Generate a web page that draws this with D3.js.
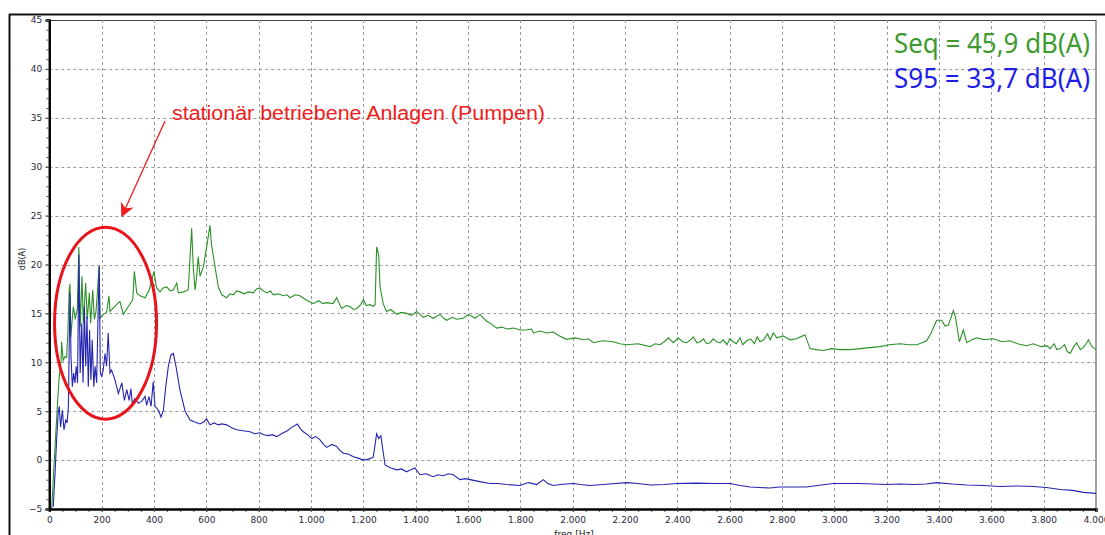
<!DOCTYPE html>
<html>
<head>
<meta charset="utf-8">
<script src="https://cdn.jsdelivr.net/npm/d3@7"></script>
<style>
  body { margin: 0; background: #fff; }
  svg { display: block; }
</style>
</head>
<body>
<svg id="chart" width="1105" height="535"></svg>
<script>
// Seq spectrum (green), [freq Hz, dB(A)]
const seqData = [
  [9,-5],[22,1.4],[32,6.1],[37,8.2],[45,10.2],[47,12.1],[53,10.2],[60,10.6],[66,10.5],[71,13],[76,17.4],[79,18],
  [82,12.6],[88,14.5],[92,15.7],[99,14.4],[107,15.4],[113,21.8],[118,13.6],[125,18.8],[130,14.0],[139,18.1],
  [145,14.4],[153,17.1],[158,14.0],[166,17.4],[172,14.4],[178,15.1],[183,16.8],[190,19.9],[194,14.5],[206,14.9],
  [219,15.1],[228,16.8],[232,15.2],[250,15.7],[264,16.1],[270,16.2],[283,14.9],[302,15.7],[319,16.4],[325,19.3],
  [334,17.1],[347,16.8],[366,16.6],[382,17.4],[400,19.3],[410,17.6],[423,17.2],[435,17.6],[449,17.7],[462,17.3],
  [474,17.4],[487,18.1],[493,17.1],[512,17.2],[531,17.4],[544,23.7],[550,19.8],[557,17.4],[563,18.8],[569,20.8],
  [576,18.8],[589,19.8],[602,21.9],[614,24.0],[620,22],[627,20.8],[646,17.7],[659,16.9],[678,16.6],[690,17.0],
  [703,16.9],[716,17.3],[729,17.2],[745,17.0],[760,17.2],[780,17.1],[792,17.5],[805,17.6],[818,17.3],[831,17.1],
  [845,17.3],[856,16.9],[875,17.0],[894,16.8],[908,16.9],[920,16.6],[940,16.9],[958,16.8],[980,16.4],[1009,16.0],
  [1030,16.3],[1045,16.0],[1060,16.1],[1085,16.0],[1098,16.6],[1117,15.5],[1135,15.8],[1149,15.7],[1162,15.4],
  [1175,15.5],[1190,15.9],[1200,16.4],[1212,15.8],[1226,15.9],[1238,15.7],[1245,15.9],[1251,21.8],[1259,20.9],
  [1264,17.7],[1276,16.0],[1289,15.2],[1305,15.4],[1328,14.9],[1345,15.1],[1366,15.0],[1385,14.8],[1404,15.2],
  [1429,14.6],[1448,14.8],[1467,14.5],[1493,14.9],[1507,14.5],[1519,14.3],[1540,14.6],[1557,14.4],[1582,14.5],
  [1601,14.9],[1615,14.7],[1627,14.5],[1646,14.9],[1660,14.5],[1672,14.2],[1690,13.9],[1710,13.5],[1730,13.6],
  [1748,13.4],[1775,13.5],[1799,13.3],[1820,13.3],[1843,13.4],[1850,13.0],[1875,13.2],[1901,13.0],[1926,13.1],
  [1950,12.7],[1977,12.35],[2010,12.5],[2041,12.3],[2060,12.4],[2079,12.0],[2115,12.2],[2155,12.1],[2180,11.9],
  [2207,11.8],[2250,11.9],[2296,11.6],[2315,11.9],[2334,11.8],[2350,12.1],[2366,12.5],[2385,12.0],[2404,12.5],
  [2420,12.1],[2436,12.0],[2450,12.3],[2461,12.6],[2475,12.0],[2487,12.1],[2500,12.4],[2512,11.9],[2525,12.0],
  [2537,12.4],[2550,12.1],[2564,12.0],[2575,12.3],[2590,11.8],[2600,12.4],[2614,12.1],[2625,11.9],[2640,12.5],
  [2650,11.8],[2665,12.2],[2680,12.4],[2695,11.9],[2705,12.6],[2716,12.1],[2730,12.3],[2745,12.9],[2755,12.3],
  [2767,13.0],[2780,12.5],[2805,12.7],[2830,12.3],[2856,12.4],[2870,12.6],[2888,12.8],[2907,11.4],[2930,11.3],
  [2958,11.2],[2990,11.4],[3022,11.3],[3060,11.3],[3098,11.4],[3135,11.5],[3174,11.6],[3210,11.8],[3251,11.9],
  [3285,11.8],[3315,11.8],[3335,12.0],[3353,12.2],[3370,13.0],[3391,14.3],[3410,14.3],[3423,13.7],[3436,13.8],
  [3455,15.3],[3463,14.6],[3478,12.1],[3493,13.3],[3506,12.0],[3525,12.3],[3544,12.5],[3575,12.3],[3608,12.4],
  [3640,12.1],[3671,12.2],[3700,11.9],[3735,11.7],[3760,11.9],[3790,11.6],[3812,11.7],[3825,11.4],[3840,11.9],
  [3850,11.3],[3863,11.4],[3880,11.8],[3890,11.1],[3901,10.9],[3915,11.6],[3926,12.0],[3940,11.3],[3951,11.5],
  [3962,11.9],[3971,12.3],[3985,11.6],[4000,11.3]
];

// S95 spectrum (blue), [freq Hz, dB(A)]
const s95Data = [
  [15,-4.8],[22,-1.35],[28,2.1],[34,4.8],[38,5.5],[43,3.4],[50,5.1],[56,3.1],[63,4.1],[68,3.8],[73,5.5],[76,11.3],
  [79,17.1],[83,10.6],[88,7.5],[93,8.9],[98,7.9],[103,9.6],[108,7.9],[113,21],[118,8.9],[124,14.0],[129,7.9],
  [134,15.7],[139,9.6],[144,14.7],[149,7.5],[154,13.3],[159,8.2],[164,12.3],[170,7.5],[175,9.6],[181,7.9],
  [187,15.7],[191,19.8],[195,8.9],[200,8.6],[206,9.2],[213,10.9],[219,9.6],[225,13.0],[232,8.9],[238,9.2],
  [251,8.2],[264,6.8],[277,7.9],[287,6.1],[296,7.2],[305,6.1],[312,7.3],[317,5.8],[327,6.3],[340,5.8],[353,6.0],
  [366,6.5],[372,5.6],[381,6.5],[389,5.5],[397,8.0],[404,5.5],[417,5.1],[427,4.4],[436,5.1],[445,7.5],[455,9.6],
  [465,10.75],[474,10.9],[484,9.6],[499,7.2],[519,5.0],[538,4.1],[556,3.9],[576,3.7],[590,3.9],[601,4.2],[614,3.6],
  [630,3.8],[646,3.6],[660,3.7],[678,3.6],[697,3.3],[716,3.1],[740,3.0],[767,2.9],[785,2.7],[805,2.8],[820,2.6],
  [837,2.5],[852,2.6],[869,2.4],[894,2.8],[910,3.0],[926,3.35],[948,3.7],[960,3.2],[971,2.9],[987,2.6],
  [1003,2.2],[1018,2.4],[1034,2.1],[1048,1.6],[1060,1.3],[1080,1.6],[1098,1.4],[1110,1.0],[1124,0.7],[1145,0.6],
  [1162,0.35],[1180,0.2],[1200,0],[1220,0.1],[1238,0.3],[1251,2.7],[1259,2.2],[1267,2.5],[1283,-0.5],[1305,-0.8],
  [1328,-1.0],[1345,-0.9],[1366,-1.2],[1380,-1.0],[1397,-0.8],[1417,-1.5],[1440,-1.4],[1467,-1.7],[1485,-1.5],
  [1506,-1.6],[1525,-1.4],[1544,-1.5],[1569,-2.0],[1590,-1.9],[1608,-2.0],[1645,-2.2],[1684,-2.4],[1715,-2.4],
  [1748,-2.5],[1799,-2.6],[1831,-2.3],[1863,-2.5],[1888,-2.0],[1905,-2.4],[1926,-2.6],[1952,-2.5],[2002,-2.4],
  [2030,-2.5],[2066,-2.6],[2140,-2.45],[2207,-2.3],[2250,-2.4],[2296,-2.55],[2350,-2.5],[2398,-2.4],[2474,-2.35],
  [2540,-2.4],[2601,-2.4],[2640,-2.6],[2678,-2.75],[2754,-2.85],[2790,-2.75],[2830,-2.75],[2894,-2.75],
  [2950,-2.55],[2996,-2.4],[3098,-2.4],[3150,-2.45],[3200,-2.5],[3250,-2.45],[3302,-2.5],[3350,-2.45],[3391,-2.3],
  [3450,-2.45],[3506,-2.55],[3570,-2.6],[3633,-2.7],[3700,-2.65],[3761,-2.7],[3810,-2.8],[3863,-3.0],[3910,-3.1],
  [3952,-3.3],[4000,-3.4]
];

const xMajor = d3.range(0, 4001, 200);
const xMinor = d3.range(0, 4001, 50);
const yMajor = d3.range(-5, 46, 5);
const yMinor = d3.range(-5, 46, 1);

const legendLines = ["Seq = 45,9 dB(A)", "S95 = 33,7 dB(A)"];
const noteText = "stationär betriebene Anlagen (Pumpen)";

(function () {
  const svg = d3.select("#chart");
  const pL = 49.3, pR = 1096, pT = 20, pB = 509;

  const x = d3.scaleLinear().domain([0, 4000]).range([pL, pR]);
  const y = d3.scaleLinear().domain([-5, 45]).range([pB, pT]);

  const de = d3.formatLocale({ decimal: ",", thousands: ".", grouping: [3], currency: ["", " €"] });
  const fmtX = de.format(",");

  // outer frame
  svg.append("line").attr("x1", 9.5).attr("x2", 9.5).attr("y1", 14).attr("y2", 535)
    .attr("stroke", "#111").attr("stroke-width", 2);
  svg.append("line").attr("x1", 9).attr("x2", 1105).attr("y1", 14.5).attr("y2", 14.5)
    .attr("stroke", "#111").attr("stroke-width", 2);

  // plot box
  svg.append("rect").attr("x", pL).attr("y", pT + 0.5).attr("width", pR - pL).attr("height", pB - pT)
    .attr("fill", "#fff").attr("stroke", "#444").attr("stroke-width", 1);

  // grid
  const grid = svg.append("g").attr("stroke", "#999").attr("stroke-dasharray", "3,3").attr("stroke-width", 1);
  grid.selectAll("line.v").data(xMajor.filter(d => d > 0 && d < 4000)).enter().append("line")
    .attr("x1", d => Math.round(x(d)) + 0.5).attr("x2", d => Math.round(x(d)) + 0.5)
    .attr("y1", pT).attr("y2", pB);
  grid.selectAll("line.h").data(yMajor.filter(d => d > -5 && d < 45)).enter().append("line")
    .attr("y1", d => Math.round(y(d)) + 0.5).attr("y2", d => Math.round(y(d)) + 0.5)
    .attr("x1", pL).attr("x2", pR);

  // series
  svg.append("clipPath").attr("id", "plot-clip").append("rect")
    .attr("x", pL).attr("y", pT).attr("width", pR - pL).attr("height", pB - pT);

  const line = d3.line().x(d => x(d[0])).y(d => y(d[1]));
  const series = svg.append("g").attr("clip-path", "url(#plot-clip)").attr("fill", "none").attr("stroke-width", 1.1);
  series.append("path").datum(seqData).attr("d", line).attr("stroke", "#2b9126");
  series.append("path").datum(s95Data).attr("d", line).attr("stroke", "#2424b0");

  // axes
  const xAxis = svg.append("g").attr("transform", `translate(0,${pB})`);
  xAxis.call(d3.axisBottom(x).tickValues(xMinor).tickSize(3).tickFormat(""));
  xAxis.append("g").call(d3.axisBottom(x).tickValues(xMajor).tickSize(3).tickPadding(5).tickFormat(fmtX));
  xAxis.selectAll(".domain").attr("stroke", "#000").attr("stroke-width", 2);
  xAxis.selectAll("line").attr("stroke", "#555");
  xAxis.selectAll("text").attr("font-family", "DejaVu Sans").attr("font-size", 9).attr("fill", "#2a2a3a");

  const yAxis = svg.append("g").attr("transform", `translate(${pL},0)`);
  yAxis.call(d3.axisLeft(y).tickValues(yMinor).tickSize(3).tickFormat(""));
  yAxis.append("g").call(d3.axisLeft(y).tickValues(yMajor).tickSize(4).tickPadding(3));
  yAxis.selectAll(".domain").attr("stroke", "#000").attr("stroke-width", 2);
  yAxis.selectAll("line").attr("stroke", "#555");
  yAxis.selectAll("text").attr("font-family", "DejaVu Sans").attr("font-size", 9).attr("fill", "#2a2a3a");

  svg.append("text").attr("transform", "translate(25,259) rotate(-90)")
    .attr("text-anchor", "middle").attr("font-family", "DejaVu Sans").attr("font-size", 8)
    .attr("fill", "#222").text("dB(A)");
  svg.append("text").attr("x", 574).attr("y", 537).attr("text-anchor", "middle")
    .attr("font-family", "DejaVu Sans").attr("font-size", 9).attr("fill", "#222").text("freq [Hz]");

  // legend
  svg.selectAll("text.legend").data(legendLines).enter().append("text")
    .attr("class", "legend")
    .attr("x", 894).attr("y", (d, i) => 53 + i * 35)
    .attr("textLength", 196).attr("lengthAdjust", "spacingAndGlyphs")
    .attr("font-family", "Noto Sans").attr("font-size", 26.5)
    .attr("fill", (d, i) => i === 0 ? "#3d9b2f" : "#1e1ee8")
    .text(d => d);

  // annotation
  const red = "#f01c1c";
  svg.append("text").attr("x", 172).attr("y", 120)
    .attr("textLength", 373).attr("lengthAdjust", "spacingAndGlyphs")
    .attr("font-family", "Liberation Sans").attr("font-size", 20).attr("fill", red)
    .text(noteText);

  svg.append("defs").append("marker").attr("id", "arrow")
    .attr("viewBox", "0 0 10 10").attr("refX", 9).attr("refY", 5)
    .attr("markerWidth", 14).attr("markerHeight", 14).attr("markerUnits", "userSpaceOnUse").attr("orient", "auto")
    .append("path").attr("d", "M0,0 L10,5 L0,10 L3,5 Z").attr("fill", red);
  svg.append("line").attr("x1", 165).attr("y1", 121).attr("x2", 122).attr("y2", 216)
    .attr("stroke", red).attr("stroke-width", 1.3).attr("marker-end", "url(#arrow)");

  svg.append("ellipse").attr("cx", x(215)).attr("cy", y(14)).attr("rx", 51).attr("ry", 96)
    .attr("fill", "none").attr("stroke", "#e8141b").attr("stroke-width", 3);
})();
</script>
</body>
</html>
